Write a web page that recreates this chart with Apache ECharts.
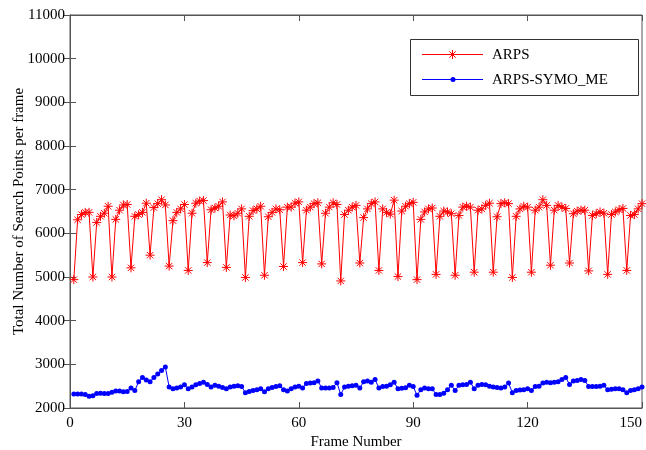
<!DOCTYPE html>
<html>
<head>
<meta charset="utf-8">
<script src="https://cdn.jsdelivr.net/npm/echarts@6/dist/echarts.min.js"></script>
<style>html,body{margin:0;padding:0;background:#fff}#c{width:646px;height:450px}</style>
</head>
<body>
<div id="c"></div>
<script>
const seriesNames = ['ARPS', 'ARPS-SYMO_ME'];
const xTicks = [0, 30, 60, 90, 120, 150];
const yTicks = [2000, 3000, 4000, 5000, 6000, 7000, 8000, 9000, 10000, 11000];
const arps = [
  4940, 6310, 6430, 6480, 6480, 5000, 6250, 6390, 6460, 6620,
  5000, 6320, 6530, 6650, 6660, 5210, 6390, 6430, 6480, 6690,
  5500, 6590, 6680, 6770, 6650, 5250, 6290, 6480, 6560, 6660,
  5150, 6460, 6690, 6740, 6750, 5330, 6540, 6580, 6620, 6720,
  5220, 6420, 6400, 6460, 6560, 4990, 6390, 6520, 6560, 6620,
  5040, 6380, 6480, 6560, 6540, 5240, 6600, 6600, 6690, 6720,
  5330, 6530, 6600, 6680, 6700, 5300, 6460, 6600, 6700, 6660,
  4910, 6430, 6530, 6600, 6640, 5320, 6360, 6560, 6680, 6720,
  5150, 6560, 6480, 6440, 6760, 5010, 6510, 6620, 6680, 6710,
  4940, 6320, 6490, 6560, 6580, 5060, 6390, 6510, 6490, 6450,
  5040, 6410, 6600, 6620, 6600, 5110, 6530, 6560, 6640, 6690,
  5110, 6380, 6680, 6700, 6680, 4990, 6390, 6560, 6620, 6600,
  5110, 6530, 6600, 6770, 6640, 5270, 6530, 6640, 6600, 6570,
  5320, 6450, 6510, 6530, 6530, 5140, 6410, 6450, 6490, 6460,
  5060, 6430, 6490, 6540, 6570, 5150, 6410, 6430, 6560, 6680
];
const symoMe = [
  2320, 2320, 2320, 2310, 2270, 2280, 2330, 2340, 2330, 2330,
  2360, 2390, 2390, 2370, 2380, 2460, 2400, 2600, 2700, 2640,
  2600, 2700, 2780, 2860, 2940, 2480, 2440, 2460, 2480, 2530,
  2440, 2480, 2530, 2560, 2590, 2540, 2480, 2520, 2500, 2470,
  2440, 2480, 2500, 2510, 2490, 2350, 2380, 2400, 2420, 2440,
  2370, 2440, 2470, 2490, 2510, 2420, 2390, 2440, 2480, 2500,
  2460, 2560, 2570, 2580, 2620, 2460, 2460, 2460, 2470, 2580,
  2310, 2480, 2500, 2510, 2520, 2460, 2600, 2620, 2590, 2650,
  2460, 2490, 2500, 2530, 2590, 2440, 2450, 2465, 2520, 2495,
  2290, 2420, 2460, 2440, 2440, 2310, 2310, 2340, 2420, 2520,
  2400, 2520, 2530, 2540, 2590, 2440, 2520, 2540, 2530, 2500,
  2480, 2470, 2460, 2480, 2570, 2350, 2400, 2410, 2420, 2440,
  2400, 2490, 2500, 2570, 2590, 2580, 2590, 2600, 2650, 2700,
  2540, 2620, 2630, 2650, 2630, 2490, 2490, 2490, 2500, 2520,
  2420, 2430, 2440, 2440, 2420, 2350, 2400, 2420, 2440, 2480
];
const frames = arps.map((_, i) => i + 1);

const FONT = 'Liberation Serif';
const AX = '#555';
const RED = '#ff0000', BLUE = '#0000ff';
const star = 'path://M5,0L5,10M0,5L10,5M1.46,1.46L8.54,8.54M8.54,1.46L1.46,8.54';

const chart = echarts.init(document.getElementById('c'), null, {renderer: 'canvas'});
const xMin = xTicks[0], xMax = xTicks[xTicks.length - 1], xInt = xTicks[1] - xTicks[0];
const yMin = yTicks[0], yMax = yTicks[yTicks.length - 1], yInt = yTicks[1] - yTicks[0];
const tickX = {show: true, inside: true, length: 6, lineStyle: {color: AX, width: 1}};

// legend drawn as graphic (line + marker + text)
function starLines(cx, cy, r) {
  const d = r * 0.7071;
  const segs = [[cx - r, cy, cx + r, cy], [cx, cy - r, cx, cy + r], [cx - d, cy - d, cx + d, cy + d], [cx - d, cy + d, cx + d, cy - d]];
  return segs.map(s => ({type: 'line', shape: {x1: s[0], y1: s[1], x2: s[2], y2: s[3]}, style: {stroke: RED, lineWidth: 1}, z: 101}));
}
const legendEls = [
  {type: 'rect', shape: {x: 410.5, y: 39.5, width: 228, height: 56}, style: {fill: '#fff', stroke: '#333', lineWidth: 1}, z: 100},
  {type: 'line', shape: {x1: 422, y1: 54.5, x2: 483, y2: 54.5}, style: {stroke: RED, lineWidth: 1}, z: 101},
  ...starLines(452.5, 54.5, 4.5),
  {type: 'text', x: 492, y: 55, style: {text: seriesNames[0], font: '15px "' + FONT + '"', fill: '#000', verticalAlign: 'middle', align: 'left'}, z: 101},
  {type: 'line', shape: {x1: 422, y1: 79.5, x2: 483, y2: 79.5}, style: {stroke: BLUE, lineWidth: 1}, z: 101},
  {type: 'circle', shape: {cx: 453, cy: 79.5, r: 2.5}, style: {fill: BLUE}, z: 101},
  {type: 'text', x: 492, y: 80, style: {text: seriesNames[1], font: '15px "' + FONT + '"', fill: '#000', verticalAlign: 'middle', align: 'left'}, z: 101}
];

chart.setOption({
  animation: false,
  backgroundColor: '#fff',
  grid: {left: 70, right: 4, top: 15, bottom: 42, show: true, borderColor: AX, borderWidth: 1, containLabel: false, outerBoundsMode: 'none'},
  graphic: {elements: legendEls},
  xAxis: [
    {type: 'value', min: xMin, max: xMax, interval: xInt, position: 'bottom',
     name: 'Frame Number', nameLocation: 'middle', nameGap: 27, nameMoveOverlap: false,
     nameTextStyle: {fontFamily: FONT, fontSize: 15, color: '#000'},
     axisLine: {show: true, lineStyle: {color: AX}}, axisTick: tickX,
     axisLabel: {fontFamily: FONT, fontSize: 15, color: '#000', margin: 8, alignMaxLabel: 'right'},
     splitLine: {show: false}},
    {type: 'value', min: xMin, max: xMax, interval: xInt, position: 'top',
     axisLine: {show: true, lineStyle: {color: AX}}, axisTick: tickX,
     axisLabel: {show: false}, splitLine: {show: false}}
  ],
  yAxis: [
    {type: 'value', min: yMin, max: yMax, interval: yInt, position: 'left',
     name: 'Total Number of Search Points per frame', nameLocation: 'middle', nameGap: 43, nameMoveOverlap: false,
     nameTextStyle: {fontFamily: FONT, fontSize: 15, color: '#000'},
     axisLine: {show: true, lineStyle: {color: AX}}, axisTick: tickX,
     axisLabel: {fontFamily: FONT, fontSize: 15, color: '#000', margin: 5, formatter: v => String(v)},
     splitLine: {show: false}},
    {type: 'value', min: yMin, max: yMax, interval: yInt, position: 'right',
     axisLine: {show: true, lineStyle: {color: AX}}, axisTick: tickX,
     axisLabel: {show: false}, splitLine: {show: false}}
  ],
  series: [
    {name: seriesNames[0], type: 'line', xAxisIndex: 0, yAxisIndex: 0,
     data: frames.map((f, i) => [f, arps[i]]),
     symbol: star, symbolSize: 9, showAllSymbol: true,
     lineStyle: {color: RED, width: 1},
     itemStyle: {color: RED, borderColor: RED, borderWidth: 1}},
    {name: seriesNames[1], type: 'line', xAxisIndex: 0, yAxisIndex: 0,
     data: frames.map((f, i) => [f, symoMe[i]]),
     symbol: 'circle', symbolSize: 5, showAllSymbol: true,
     lineStyle: {color: BLUE, width: 1},
     itemStyle: {color: BLUE, borderWidth: 0}}
  ]
});
</script>
</body>
</html>
